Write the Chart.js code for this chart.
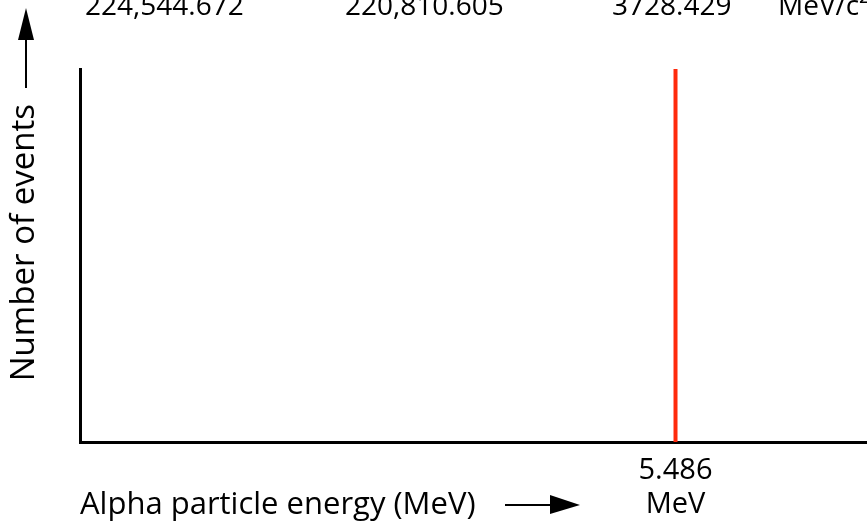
<!DOCTYPE html>
<html>
<head>
<meta charset="utf-8">
<script src="https://cdn.jsdelivr.net/npm/chart.js@4/dist/chart.umd.min.js"></script>
<style>
    html, body { margin: 0; padding: 0; background: #fff; }
</style>
</head>
<body>
<canvas id="alphaChart" width="867" height="524"></canvas>
<script>
// spike of the alpha spectrum (one line at 5.486 MeV)
const peakEnergy = [5.486, 5.486];
const peakCounts = [0, 1];
const energyTicks = [5.486];
const energyTickLabel = ['5.486', 'MeV'];
// cut-off header line from the top of the page
const headerValues = ['224,544.672', '220,810.605', '3728.429', 'MeV/c²'];

const FONT = "'Open Sans', 'DejaVu Sans', sans-serif";

// header text and the two arrows
const decorations = {
    id: 'decorations',
    afterDraw(chart) {
        const ctx = chart.ctx;
        ctx.save();
        ctx.fillStyle = '#000';
        ctx.strokeStyle = '#000';
        ctx.font = `28px ${FONT}`;
        ctx.textBaseline = 'alphabetic';
        const headerX = [85, 345, 612, 778];
        headerValues.forEach((t, i) => ctx.fillText(t, headerX[i], 15));

        // up arrow next to the y title
        ctx.lineWidth = 2;
        ctx.beginPath();
        ctx.moveTo(26, 88);
        ctx.lineTo(26, 36);
        ctx.stroke();
        ctx.beginPath();
        ctx.moveTo(26, 8);
        ctx.lineTo(18, 40);
        ctx.lineTo(34, 40);
        ctx.closePath();
        ctx.fill();

        // right arrow next to the x title
        ctx.beginPath();
        ctx.moveTo(505, 505);
        ctx.lineTo(556, 505);
        ctx.stroke();
        ctx.beginPath();
        ctx.moveTo(580, 505);
        ctx.lineTo(550, 495);
        ctx.lineTo(550, 514);
        ctx.closePath();
        ctx.fill();
        ctx.restore();
    }
};

new Chart(document.getElementById('alphaChart'), {
    type: 'line',
    data: {
        datasets: [{
            data: peakEnergy.map((e, i) => ({ x: e, y: peakCounts[i] })),
            borderColor: '#ff2a0c',
            borderWidth: 4,
            pointRadius: 0,
            borderCapStyle: 'butt'
        }]
    },
    options: {
        responsive: false,
        animation: false,
        layout: { padding: { top: 69, left: 0, right: 0, bottom: 0 } },
        plugins: {
            legend: { display: false },
            tooltip: { enabled: false }
        },
        scales: {
            x: {
                type: 'linear',
                min: 0,
                max: 7.25,
                afterBuildTicks: (axis) => { axis.ticks = energyTicks.map(v => ({ value: v })); },
                afterFit: (axis) => { axis.height = 82; },
                grid: {
                    display: true,
                    drawOnChartArea: false,
                    drawTicks: true,
                    tickLength: -17,
                    tickWidth: 2,
                    tickColor: '#000'
                },
                border: { display: true, color: '#000', width: 3 },
                ticks: {
                    color: '#000',
                    maxRotation: 0,
                    padding: 28,
                    font: { family: FONT, size: 29, lineHeight: 1.2 },
                    callback: () => energyTickLabel
                },
                title: {
                    display: true,
                    text: 'Alpha particle energy (MeV)',
                    align: 'start',
                    color: '#000',
                    padding: { top: 0, bottom: 0 },
                    font: { family: FONT, size: 31, lineHeight: 1.2 }
                }
            },
            y: {
                type: 'linear',
                min: 0,
                max: 1,
                afterFit: (axis) => { axis.width = 80; },
                grid: { display: false },
                border: { display: true, color: '#000', width: 3 },
                ticks: { display: false },
                title: {
                    display: true,
                    text: '   Number of events',
                    color: '#000',
                    padding: { top: 5, bottom: 0 },
                    font: { family: FONT, size: 33, lineHeight: 1.2 }
                }
            }
        }
    },
    plugins: [decorations]
});
</script>
</body>
</html>
